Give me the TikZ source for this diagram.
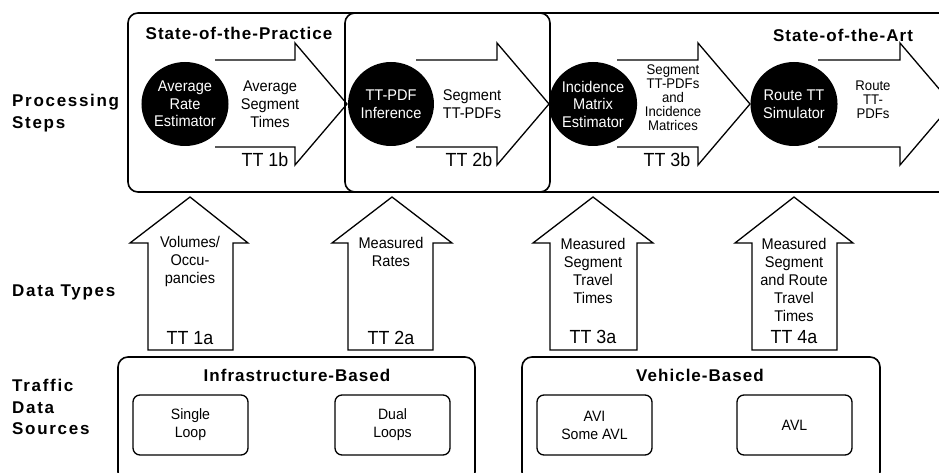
\documentclass[tikz,border=0pt]{standalone}
\usepackage{fontspec}
\setmainfont{Liberation Sans}
\newfontfamily\headfont{Liberation Sans}[LetterSpace=6]
\newfontfamily\sidefont{Liberation Sans}[LetterSpace=10]
\newfontfamily\bodyfont{Liberation Sans}[FakeStretch=0.94]
\usetikzlibrary{shapes.geometric}

\begin{document}
\begin{tikzpicture}[x=1pt,y=-1pt,
  frame/.style={draw, line width=1.6pt, rounded corners=10pt},
  srcbox/.style={draw, line width=1.3pt, rounded corners=7pt, minimum width=115pt,
    minimum height=60pt, align=center, font=\bodyfont\fontsize{15}{18}\selectfont},
  bigarrow/.style={draw, line width=1.3pt, line join=miter},
  proc/.style={ellipse, fill=black, minimum width=78pt, minimum height=84pt, inner sep=0pt,
    text=white, align=center, font=\bodyfont\fontsize{15.5}{17.5}\selectfont},
  lbl/.style={align=center, font=\bodyfont\fontsize{15.5}{18}\selectfont, inner sep=0pt},
  small/.style={align=center, font=\bodyfont\fontsize{14}{14}\selectfont, inner sep=0pt},
  ttl/.style={font=\bodyfont\fontsize{19}{20}\selectfont, inner sep=0pt},
  head/.style={font=\headfont\bfseries\fontsize{17}{20}\selectfont, inner sep=0pt},
  side/.style={font=\sidefont\bfseries\fontsize{17}{21.5}\selectfont, align=left,
    anchor=west, inner sep=0pt}
]
\useasboundingbox (0,0) rectangle (939,473);
\clip (0,0) rectangle (939,473);

% row labels
\node[side] (rowproc) at (12,113) {Processing\\Steps};
\node[side] (rowtypes) at (12,292) {Data Types};
\node[side] (rowsrc) at (12,407) {Traffic\\Data\\Sources};

% processing frames (overlapping)
\draw[frame] (128,13) rectangle (550,192);
\draw[frame] (345,13) rectangle (990,192);
\node[head] (practice) at (239,33) {State-of-the-Practice};
\node[head] (art) at (843,35) {State-of-the-Art};

% processing-step arrows
\draw[bigarrow] (215,60) -- (295,60) -- (295,43) -- (347,104) -- (295,165) -- (295,147) -- (215,147);
\draw[bigarrow] (416,60) -- (497,60) -- (497,43) -- (549,104) -- (497,165) -- (497,147) -- (416,147);
\draw[bigarrow] (617,60) -- (698,60) -- (698,43) -- (750,104) -- (698,165) -- (698,147) -- (617,147);
\draw[bigarrow] (818,60) -- (900,60) -- (900,43) -- (952,104) -- (900,165) -- (900,147) -- (818,147);

% processing steps
\node[proc] (est) at (185,104) {Average\\Rate\\Estimator};
\node[proc] (inf) at (391,104) {TT-PDF\\Inference};
\node[proc] (inc) at (593,104) {Incidence\\Matrix\\Estimator};
\node[proc] (sim) at (794,104) {Route TT\\Simulator};

\node[lbl] (out1) at (270,104) {Average\\Segment\\Times};
\node[lbl] (out2) at (472,104) {Segment\\TT-PDFs};
\node[small] (out3) at (673,98) {Segment\\TT-PDFs\\and\\Incidence\\Matrices};
\node[small] (out4) at (873,100) {Route\\TT-\\PDFs};
\node[ttl] (tt1b) at (265,160) {TT 1b};
\node[ttl] (tt2b) at (469,160) {TT 2b};
\node[ttl] (tt3b) at (667,160) {TT 3b};

% data-type arrows
\draw[bigarrow] (148,350) -- (148,243) -- (130,243) -- (190,197) -- (248,243) -- (233,243) -- (233,350) -- cycle;
\draw[bigarrow] (348,350) -- (348,243) -- (332,243) -- (392,197) -- (452,243) -- (433,243) -- (433,350) -- cycle;
\draw[bigarrow] (550,350) -- (550,243) -- (533,243) -- (593,197) -- (653,243) -- (637,243) -- (637,350) -- cycle;
\draw[bigarrow] (752,350) -- (752,243) -- (735,243) -- (794,197) -- (853,243) -- (837,243) -- (837,350) -- cycle;

\node[lbl] (dt1) at (190,261) {Volumes/\\Occu-\\pancies};
\node[lbl] (dt2) at (391,252) {Measured\\Rates};
\node[lbl] (dt3) at (593,271) {Measured\\Segment\\Travel\\Times};
\node[lbl] (dt4) at (794,280) {Measured\\Segment\\and Route\\Travel\\Times};
\node[ttl] (tt1a) at (190,338) {TT 1a};
\node[ttl] (tt2a) at (391,338) {TT 2a};
\node[ttl] (tt3a) at (593,337) {TT 3a};
\node[ttl] (tt4a) at (794,337) {TT 4a};

% traffic data sources
\draw[frame] (118,357) rectangle (475,482);
\draw[frame] (522,357) rectangle (880,482);
\node[head] (infra) at (297,375) {Infrastructure-Based};
\node[head] (veh) at (700,375) {Vehicle-Based};
\node[srcbox] (single) at (190.5,425) {Single\\Loop};
\node[srcbox] (dual) at (392.5,425) {Dual\\Loops};
\node[srcbox] (avi) at (594.5,425) {AVI\\Some AVL};
\node[srcbox] (avl) at (794.5,425) {AVL};
\end{tikzpicture}
\end{document}
